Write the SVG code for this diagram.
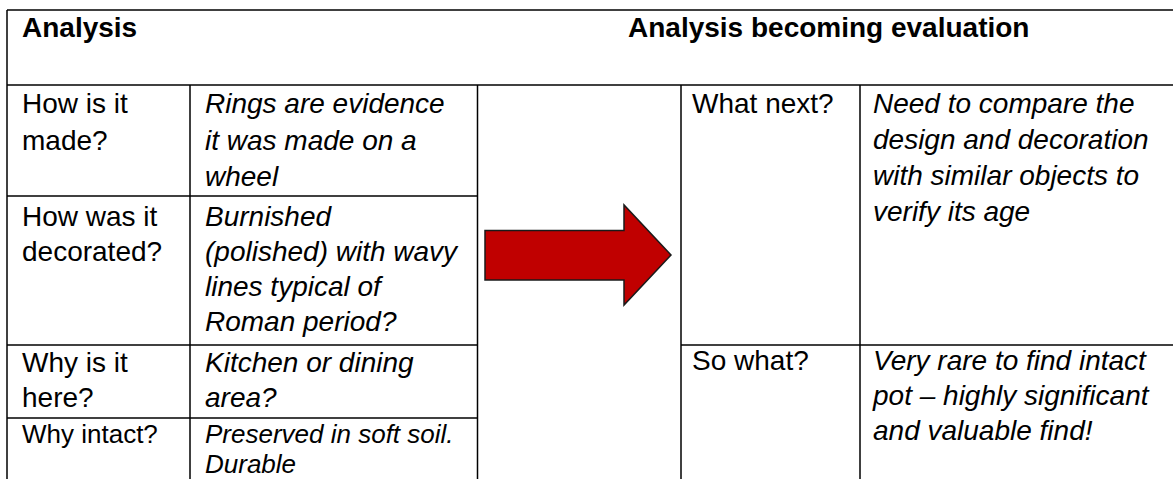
<svg xmlns="http://www.w3.org/2000/svg" width="1173" height="479" viewBox="0 0 1173 479">
<style>
.ln{stroke:#000;stroke-width:1.5;fill:none}
.t{font-family:"Liberation Sans",Arial,sans-serif;font-size:28px;fill:#000}
.h{font-weight:bold}
.i{font-style:italic}
.s{font-size:26px}
</style>
<rect x="0" y="0" width="1173" height="479" fill="#fff"/>
<g id="grid">
<line class="ln" x1="7" y1="10" x2="1173" y2="10"/>
<line class="ln" x1="7" y1="85" x2="1173" y2="85"/>
<line class="ln" x1="7" y1="10" x2="7" y2="479"/>
<line class="ln" x1="190" y1="85" x2="190" y2="479"/>
<line class="ln" x1="477.5" y1="85" x2="477.5" y2="479"/>
<line class="ln" x1="681" y1="85" x2="681" y2="479"/>
<line class="ln" x1="860" y1="85" x2="860" y2="479"/>
<line class="ln" x1="7" y1="196" x2="477.5" y2="196"/>
<line class="ln" x1="7" y1="345" x2="477.5" y2="345"/>
<line class="ln" x1="7" y1="418" x2="477.5" y2="418"/>
<line class="ln" x1="681" y1="345" x2="1173" y2="345"/>
</g>
<g id="header-analysis"><text class="t h" x="22" y="37">Analysis</text></g>
<g id="header-evaluation"><text class="t h" x="628" y="37">Analysis becoming evaluation</text></g>
<g id="q-made"><text class="t" x="22" y="113">How is it</text><text class="t" x="22" y="150">made?</text></g>
<g id="a-made"><text class="t i" x="205" y="113">Rings are evidence</text><text class="t i" x="205" y="150">it was made on a</text><text class="t i" x="205" y="186">wheel</text></g>
<g id="q-decorated"><text class="t" x="22" y="226">How was it</text><text class="t" x="22" y="261">decorated?</text></g>
<g id="a-decorated"><text class="t i" x="205" y="226">Burnished</text><text class="t i" x="205" y="261">(polished) with wavy</text><text class="t i" x="205" y="296">lines typical of</text><text class="t i" x="205" y="331">Roman period?</text></g>
<g id="q-here"><text class="t" x="22" y="372">Why is it</text><text class="t" x="22" y="407">here?</text></g>
<g id="a-here"><text class="t i" x="205" y="372">Kitchen or dining</text><text class="t i" x="205" y="407">area?</text></g>
<g id="q-intact"><text class="t s" x="22" y="443">Why intact?</text></g>
<g id="a-intact"><text class="t i s" x="205" y="443">Preserved in soft soil.</text><text class="t i s" x="205" y="473">Durable</text></g>
<g id="q-next"><text class="t" x="692" y="113">What next?</text></g>
<g id="a-next"><text class="t i" x="873" y="113">Need to compare the</text><text class="t i" x="873" y="149">design and decoration</text><text class="t i" x="873" y="185">with similar objects to</text><text class="t i" x="873" y="221">verify its age</text></g>
<g id="q-sowhat"><text class="t" x="692" y="370">So what?</text></g>
<g id="a-sowhat"><text class="t i" x="873" y="370">Very rare to find intact</text><text class="t i" x="873" y="405">pot – highly significant</text><text class="t i" x="873" y="440">and valuable find!</text></g>
<g id="connectors">
<polygon points="485,230.5 624,230.5 624,205 671,255 624,305 624,280 485,280" fill="#C00000" stroke="#1a1a1a" stroke-width="1.5" stroke-linejoin="miter"/>
</g>
</svg>
